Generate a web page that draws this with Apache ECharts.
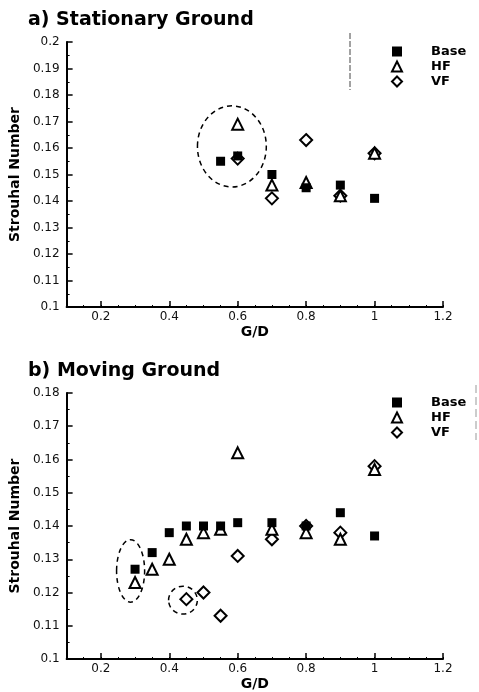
<!DOCTYPE html>
<html>
<head>
<meta charset="utf-8">
<script src="https://cdn.jsdelivr.net/npm/echarts@6/dist/echarts.min.js"></script>
<style>
  html, body { margin: 0; padding: 0; background: #fff; }
  #chart { width: 479px; height: 692px; }
</style>
</head>
<body>
<div id="chart"></div>
<script>
// G/D tick labels
const xTicks = [0.2, 0.4, 0.6, 0.8, 1.0, 1.2];

// a) Stationary Ground
const gdTop = [0.55, 0.6, 0.7, 0.8, 0.9, 1.0];
const baseTop = [0.155, 0.157, 0.150, 0.145, 0.146, 0.141];
const gdTopFlap = [0.6, 0.7, 0.8, 0.9, 1.0];
const hfTop = [0.169, 0.146, 0.147, 0.142, 0.158];
const vfTop = [0.156, 0.141, 0.163, 0.142, 0.158];

// b) Moving Ground
const gdBot = [0.3, 0.35, 0.4, 0.45, 0.5, 0.55, 0.6, 0.7, 0.8, 0.9, 1.0];
const baseBot = [0.127, 0.132, 0.138, 0.140, 0.140, 0.140, 0.141, 0.141, 0.140, 0.144, 0.137];
const hfBot = [0.123, 0.127, 0.130, 0.136, 0.138, 0.139, 0.162, 0.139, 0.138, 0.136, 0.157];
const gdBotVF = [0.45, 0.5, 0.55, 0.6, 0.7, 0.8, 0.9, 1.0];
const vfBot = [0.118, 0.120, 0.113, 0.131, 0.136, 0.140, 0.138, 0.158];

// dashed ellipses: [centre G/D, centre St, half-width, half-height] in data units
const ringsTop = [[0.583, 0.1606, 0.1006, 0.0153]];
const ringsBot = [[0.287, 0.1265, 0.041, 0.0094], [0.44, 0.1177, 0.042, 0.0042]];

const names = ['Base', 'HF', 'VF'];

function pairs(xs, ys) {
  return xs.map((x, i) => [x, ys[i]]);
}

const font = 'DejaVu Sans';

function xAxes(grid) {
  return [
    {
      gridIndex: grid, type: 'value', position: 'bottom', min: 0.1, max: 1.2, interval: 0.05,
      name: 'G/D', nameLocation: 'middle', nameGap: 18,
      nameTextStyle: { fontFamily: font, fontWeight: 'bold', fontSize: 14, color: '#000' },
      axisLine: { lineStyle: { color: '#000', width: 2 } },
      axisTick: { inside: true, length: 2, lineStyle: { color: '#000', width: 1 } },
      axisLabel: { customValues: xTicks, margin: 4, fontFamily: font, fontSize: 12, color: '#111' },
      splitLine: { show: false }
    },
    {
      gridIndex: grid, type: 'value', position: 'bottom', offset: 0, min: 0.1, max: 1.2, interval: 0.1,
      axisLine: { show: false },
      axisTick: { customValues: xTicks, inside: true, length: 6, lineStyle: { color: '#000', width: 1.5 } },
      axisLabel: { show: false },
      splitLine: { show: false }
    }
  ];
}

function yAxis(grid, max) {
  return {
    gridIndex: grid, type: 'value', min: 0.1, max: max, interval: 0.01,
    name: 'Strouhal Number', nameLocation: 'middle', nameGap: 38,
    nameTextStyle: { fontFamily: font, fontWeight: 'bold', fontSize: 14, color: '#000' },
    axisLine: { lineStyle: { color: '#000', width: 2 } },
    axisTick: { inside: true, length: 6, lineStyle: { color: '#000', width: 1.5 } },
    minorTick: { show: true, splitNumber: 2, length: 3, lineStyle: { color: '#000', width: 1 } },
    axisLabel: { margin: 7, fontFamily: font, fontSize: 12, color: '#111' },
    splitLine: { show: false }
  };
}

function pointSeries(name, xi, yi, data) {
  const st = {
    Base: { symbol: 'rect', symbolSize: 9, itemStyle: { color: '#000', opacity: 1 } },
    HF: { symbol: 'triangle', symbolSize: 11, itemStyle: { color: '#fff', borderColor: '#000', borderWidth: 2, opacity: 1 } },
    VF: { symbol: 'diamond', symbolSize: 12, itemStyle: { color: '#fff', borderColor: '#000', borderWidth: 2, opacity: 1 } }
  }[name];
  return Object.assign({
    name: name, type: 'scatter', xAxisIndex: xi, yAxisIndex: yi, data: data,
    emphasis: { disabled: true }, z: name === 'Base' ? 4 : (name === 'HF' ? 3 : 2)
  }, st);
}

function ringSeries(xi, yi, data) {
  return {
    type: 'custom', xAxisIndex: xi, yAxisIndex: yi, data: data, silent: true, z: 1,
    encode: { x: 0, y: 1 },
    renderItem: function (params, api) {
      const c = api.coord([api.value(0), api.value(1)]);
      const s = api.size([api.value(2), api.value(3)]);
      return {
        type: 'ellipse',
        shape: { cx: c[0], cy: c[1], rx: s[0], ry: s[1] },
        style: { fill: 'none', stroke: '#000', lineWidth: 1.5, lineDash: [5, 4] }
      };
    }
  };
}

function legend(top) {
  return {
    data: names, orient: 'vertical', left: 386, top: top,
    itemWidth: 10, itemHeight: 10, itemGap: 2,
    selectedMode: false,
    textStyle: { fontFamily: font, fontWeight: 'bold', fontSize: 13, color: '#000', padding: [0, 0, 0, 24] }
  };
}

const myChart = echarts.init(document.getElementById('chart'));
const option = {
  animation: false,
  backgroundColor: '#fff',
  title: [
    { text: 'a) Stationary Ground', left: 23, top: 6, textStyle: { fontFamily: font, fontWeight: 'bold', fontSize: 19, color: '#000' } },
    { text: 'b) Moving Ground', left: 23, top: 357, textStyle: { fontFamily: font, fontWeight: 'bold', fontSize: 19, color: '#000' } }
  ],
  legend: [legend(40), legend(391)],
  grid: [
    { left: 66, top: 42, width: 377, height: 265 },
    { left: 66, top: 393, width: 377, height: 267 }
  ],
  xAxis: xAxes(0).concat(xAxes(1)),
  yAxis: [yAxis(0, 0.2), yAxis(1, 0.18)],
  graphic: [
    { type: 'line', shape: { x1: 350, y1: 33, x2: 350, y2: 90 }, style: { stroke: '#444', lineWidth: 1, lineDash: [6, 2] } },
    { type: 'line', shape: { x1: 476, y1: 385, x2: 476, y2: 440 }, style: { stroke: '#999', lineWidth: 1, lineDash: [8, 4] } }
  ],
  series: [
    ringSeries(0, 0, ringsTop),
    pointSeries('VF', 0, 0, pairs(gdTopFlap, vfTop)),
    pointSeries('HF', 0, 0, pairs(gdTopFlap, hfTop)),
    pointSeries('Base', 0, 0, pairs(gdTop, baseTop)),
    ringSeries(2, 1, ringsBot),
    pointSeries('VF', 2, 1, pairs(gdBotVF, vfBot)),
    pointSeries('HF', 2, 1, pairs(gdBot, hfBot)),
    pointSeries('Base', 2, 1, pairs(gdBot, baseBot))
  ]
};
myChart.setOption(option);
</script>
</body>
</html>
